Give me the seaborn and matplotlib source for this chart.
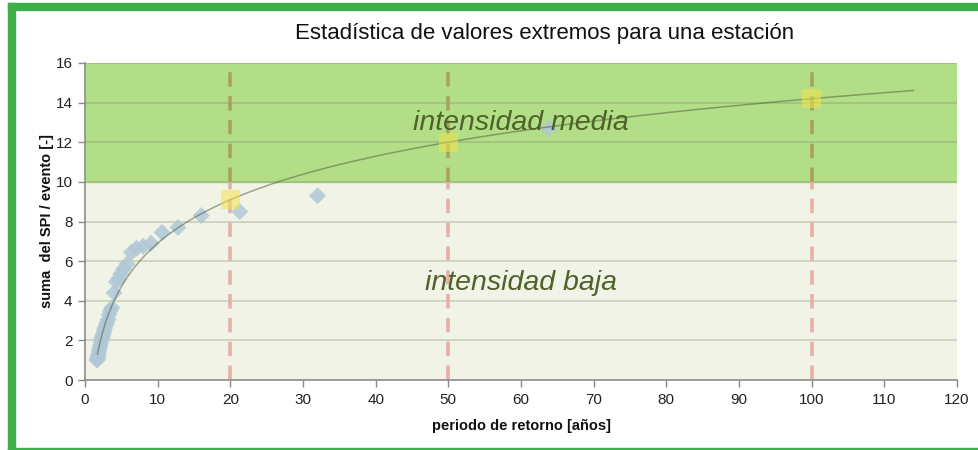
import numpy as np
import pandas as pd
import matplotlib
matplotlib.use("Agg")
import matplotlib.pyplot as plt
from matplotlib.patches import Rectangle
import seaborn as sns

# Observed event sums vs. empirical return period
periodo = [63.8, 32.0, 21.3, 16.0, 12.8, 10.6, 9.1, 8.0, 7.1, 6.4, 5.8, 5.3,
           4.9, 4.6, 4.3, 4.0, 3.7, 3.5, 3.3, 3.2, 3.0, 2.9, 2.7, 2.6, 2.5,
           2.4, 2.3, 2.2, 2.1, 2.0, 1.9, 1.85, 1.8, 1.75, 1.7, 1.65]
suma_spi = [12.7, 9.3, 8.5, 8.3, 7.7, 7.45, 6.9, 6.75, 6.65, 6.45, 5.85, 5.6,
            5.35, 5.1, 4.95, 4.4, 3.65, 3.5, 3.3, 3.05, 2.9, 2.75, 2.6, 2.45,
            2.3, 2.2, 2.1, 1.9, 1.75, 1.6, 1.45, 1.3, 1.2, 1.1, 1.05, 1.0]

# Return levels for selected return periods
periodo_ref = [20, 50, 100]
nivel_ref = [9.1, 12.0, 14.2]

# Extent of the logarithmic trend curve
trend_desde, trend_hasta = 1.7, 114

# Intensity classes
umbral_media = 10
y_max = 16
x_max = 120

puntos = pd.DataFrame({"T": periodo, "S": suma_spi})
ref = pd.DataFrame({"T": periodo_ref, "S": nivel_ref})

# Logarithmic fit through the return levels
a, b = np.polyfit(np.log(periodo_ref), nivel_ref, 1)
t_grid = np.linspace(trend_desde, trend_hasta, 300)
tendencia = pd.DataFrame({"T": t_grid, "S": a * np.log(t_grid) + b})

sns.set_theme(style="white")
plt.rcParams["font.family"] = ["Liberation Sans", "DejaVu Sans"]

fig = plt.figure(figsize=(9.79, 4.5), dpi=100)
ax = fig.add_axes([85 / 979, 70 / 450, 872 / 979, 317 / 450])

# Green frame around the figure
frame_col = "#3cae4a"
fig.patches.append(Rectangle((8 / 979, 1 - 10 / 450), 1, 7 / 450,
                             transform=fig.transFigure, color=frame_col, zorder=0))
fig.patches.append(Rectangle((8 / 979, 0), 7 / 979, 1 - 3 / 450,
                             transform=fig.transFigure, color=frame_col, zorder=0))
fig.patches.append(Rectangle((8 / 979, 0), 1, 2.5 / 450,
                             transform=fig.transFigure, color=frame_col, zorder=0))

# Intensity bands
ax.axhspan(0, umbral_media, color="#f0f3e5", zorder=0)
ax.axhspan(umbral_media, y_max, color="#b2de87", zorder=0)

# Horizontal grid
for yv in range(2, y_max + 1, 2):
    ax.axhline(yv, color="#7a8060", alpha=0.35, lw=1.1, zorder=1)

# Dashed markers at the reference return periods
for t in periodo_ref:
    ax.plot([t, t], [0, umbral_media], color="#e6b2a8", lw=2.6,
            dashes=(4, 2.6), zorder=2)
    ax.plot([t, t], [umbral_media, y_max], color="#a9a25c", lw=2.6,
            dashes=(4, 2.6), zorder=2)

sns.scatterplot(data=puntos, x="T", y="S", marker="D", s=75,
                color="#b0c8d6", alpha=0.85, edgecolor="none", ax=ax, zorder=3)
sns.lineplot(data=tendencia, x="T", y="S", color="#4a5a36", alpha=0.5,
             lw=1.1, ax=ax, zorder=4)
sns.scatterplot(data=ref, x="T", y="S", marker="s", s=190,
                color="#f2e44a", alpha=0.55, edgecolor="none", ax=ax, zorder=5)

ax.text(60, 12.95, "intensidad media", ha="center", va="center", style="italic",
        fontsize=20.5, color="#4e6229", zorder=6)
ax.text(60, 4.9, "intensidad baja", ha="center", va="center", style="italic",
        fontsize=20.5, color="#4e6229", zorder=6)

ax.set_xlim(0, x_max)
ax.set_ylim(0, y_max)
ax.set_xticks(range(0, x_max + 1, 10))
ax.set_yticks(range(0, y_max + 1, 2))
ax.tick_params(axis="both", which="major", length=5, width=1, color="#888888",
               labelsize=11, labelcolor="#222222", direction="out", pad=4)
ax.tick_params(bottom=True, left=True)
for s in ["top", "right"]:
    ax.spines[s].set_visible(False)
for s in ["left", "bottom"]:
    ax.spines[s].set_color("#8c8c8c")
    ax.spines[s].set_linewidth(1.2)

ax.set_xlabel("periodo de retorno [años]", fontsize=10.5, fontweight="bold",
              color="#111111", labelpad=9)
ax.set_ylabel("suma  del SPI / evento [-]", fontsize=10.5, fontweight="bold",
              color="#111111", labelpad=1)
fig.text(545 / 979, 1 - 33 / 450, "Estadística de valores extremos para una estación",
         ha="center", va="center", fontsize=16, color="#111111")

fig.savefig("out.png", dpi=100, facecolor="white")
